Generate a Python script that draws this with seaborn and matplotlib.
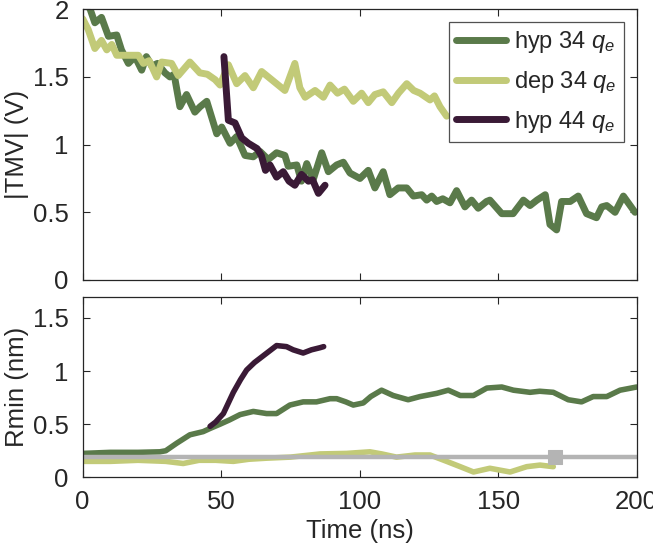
import numpy as np
import pandas as pd
import matplotlib
matplotlib.use('Agg')
import matplotlib.pyplot as plt
import seaborn as sns

# colours
c_hyp34 = '#5a7a4a'
c_dep34 = '#c2ca78'
c_hyp44 = '#3a1a36'
c_ref = '#b4b4b4'

# ---- top panel: |TMV| (V) ----
tmv_hyp34_t = [0, 2.7, 4.4, 6.8, 9.3, 12.3, 14, 16.5, 18.9, 21.3, 23, 25, 27, 29.7, 31.5, 33,
               35.1, 37.5, 40.5, 42.4, 44.8, 48.4, 50.2, 53.2, 55.6, 58.6, 61.6, 64, 67, 70,
               73, 74.2, 77.3, 79, 80.9, 83.2, 86.3, 88.7, 91.7, 94.1, 96.5, 100.1, 103.1,
               105.5, 108.5, 110.9, 113.9, 117, 119.4, 122.4, 124.2, 126, 127.8, 130, 132.6,
               135, 138, 140.4, 142.8, 145.8, 147, 151.3, 155.4, 159.1, 161.5, 164, 167,
               168.7, 171.1, 172.9, 176, 178.9, 181.9, 185.5, 187.4, 189.2, 192.2, 195.2, 199.4]
tmv_hyp34 = [2.08, 2.0, 1.9, 1.94, 1.8, 1.81, 1.70, 1.6, 1.65, 1.55, 1.65, 1.58, 1.6, 1.53, 1.50,
             1.52, 1.28, 1.37, 1.24, 1.28, 1.32, 1.08, 1.13, 1.01, 1.06, 0.92, 0.91, 0.95, 0.89,
             0.94, 0.92, 0.84, 0.85, 0.73, 0.86, 0.74, 0.94, 0.80, 0.85, 0.87, 0.79, 0.75, 0.81,
             0.68, 0.80, 0.63, 0.68, 0.68, 0.62, 0.63, 0.59, 0.62, 0.58, 0.60, 0.57, 0.66, 0.54,
             0.59, 0.53, 0.58, 0.59, 0.49, 0.49, 0.59, 0.55, 0.59, 0.63, 0.41, 0.37, 0.58, 0.58,
             0.62, 0.49, 0.46, 0.54, 0.55, 0.50, 0.62, 0.50]

tmv_dep34_t = [0, 2, 4.4, 6.8, 8.7, 10.5, 12.3, 16, 20.1, 21.9, 24, 26.7, 28.5, 32.1, 34.5,
               38.7, 42.3, 45, 47.8, 49.6, 52.6, 55.6, 58.6, 61.6, 64.6, 67, 70, 73, 76.6, 78.4,
               80.3, 83.9, 86.9, 89.3, 92, 94.5, 97.7, 100.7, 103.1, 105.5, 108.5, 111.6, 114,
               117, 119.5, 121.8, 125.4, 127, 129, 131.4]
tmv_dep34 = [1.93, 1.85, 1.71, 1.77, 1.70, 1.74, 1.66, 1.66, 1.66, 1.60, 1.62, 1.50, 1.61, 1.60,
             1.51, 1.61, 1.53, 1.52, 1.48, 1.44, 1.59, 1.45, 1.51, 1.42, 1.54, 1.50, 1.45, 1.40,
             1.60, 1.42, 1.35, 1.40, 1.35, 1.44, 1.38, 1.41, 1.32, 1.38, 1.31, 1.37, 1.39, 1.31,
             1.38, 1.45, 1.40, 1.38, 1.33, 1.36, 1.28, 1.21]

tmv_hyp44_t = [51, 52.6, 55, 57.4, 59.8, 63, 64.5, 66, 67.6, 70, 72.4, 74.5, 76.6, 79, 81.5,
               83, 85.1, 87.5]
tmv_hyp44 = [1.65, 1.18, 1.16, 1.05, 1.01, 0.97, 0.92, 0.81, 0.85, 0.76, 0.80, 0.73, 0.70,
             0.78, 0.73, 0.74, 0.64, 0.70]

# ---- bottom panel: Rmin (nm) ----
rmin_hyp34_t = [0, 10, 20, 27.9, 30, 33.9, 38.7, 43.5, 46, 49.6, 53, 56.8, 61.6, 66.4, 70, 74.8,
                79.6, 84.4, 89.3, 91.7, 95, 97.7, 101.3, 104, 107.9, 112.1, 117.5, 121.8, 127.8,
                132, 136.3, 141.1, 145.9, 151.3, 155.5, 161.5, 165, 169.9, 175.3, 180.1, 184.3,
                189.2, 194, 200]
rmin_hyp34 = [0.225, 0.235, 0.235, 0.24, 0.25, 0.32, 0.40, 0.43, 0.46, 0.50, 0.54, 0.59, 0.62,
              0.60, 0.60, 0.68, 0.71, 0.71, 0.74, 0.74, 0.71, 0.68, 0.70, 0.76, 0.82, 0.77, 0.73,
              0.76, 0.79, 0.82, 0.77, 0.77, 0.84, 0.85, 0.82, 0.80, 0.81, 0.80, 0.73, 0.71, 0.76,
              0.76, 0.82, 0.85]

rmin_dep34_t = [0, 10, 20, 30, 36.3, 42, 48, 54.4, 60, 66.4, 75, 85.7, 95.3, 103.7, 108, 113.3,
                120, 125.4, 131.4, 136.3, 141.1, 147, 154.3, 160.3, 165.1, 169.9]
rmin_dep34 = [0.15, 0.15, 0.16, 0.15, 0.13, 0.16, 0.16, 0.15, 0.17, 0.18, 0.19, 0.22, 0.225,
              0.24, 0.22, 0.19, 0.21, 0.21, 0.15, 0.10, 0.05, 0.085, 0.05, 0.10, 0.115, 0.10]

rmin_hyp44_t = [46, 48, 50.8, 54.4, 57, 59.2, 62, 64, 67, 70, 73.6, 76, 79.6, 82.6, 85.7, 87]
rmin_hyp44 = [0.48, 0.52, 0.60, 0.80, 0.92, 1.01, 1.08, 1.12, 1.18, 1.24, 1.23, 1.20, 1.17,
              1.20, 1.22, 1.23]

ref_t = [0, 200]
ref_level = [0.19, 0.19]
ref_mark_t = [170.5]
ref_mark = [0.19]

labels = ['hyp 34 $q_e$', 'dep 34 $q_e$', 'hyp 44 $q_e$']

sns.set_style('ticks')
plt.rcParams['font.family'] = ['Liberation Sans', 'DejaVu Sans']
plt.rcParams['mathtext.fontset'] = 'custom'
plt.rcParams['mathtext.rm'] = 'Liberation Sans'
plt.rcParams['mathtext.it'] = 'Liberation Sans:italic'
plt.rcParams['axes.edgecolor'] = '#262626'
plt.rcParams['xtick.color'] = '#262626'
plt.rcParams['ytick.color'] = '#262626'

fig = plt.figure(figsize=(6.53, 5.44), dpi=100)
ax1 = fig.add_axes([0.1266, 0.4853, 0.8484, 0.4977])
ax2 = fig.add_axes([0.1266, 0.1226, 0.8484, 0.332])

lw_top = 5.0
lw_bot = 4.0
fs = 18.5

sns.lineplot(x=tmv_hyp34_t, y=tmv_hyp34, color=c_hyp34, lw=lw_top, ax=ax1, label=labels[0])
sns.lineplot(x=tmv_dep34_t, y=tmv_dep34, color=c_dep34, lw=lw_top, ax=ax1, label=labels[1])
sns.lineplot(x=tmv_hyp44_t, y=tmv_hyp44, color=c_hyp44, lw=lw_top, ax=ax1, label=labels[2])

sns.lineplot(x=rmin_hyp34_t, y=rmin_hyp34, color=c_hyp34, lw=lw_bot, ax=ax2)
sns.lineplot(x=rmin_dep34_t, y=rmin_dep34, color=c_dep34, lw=lw_bot, ax=ax2)
sns.lineplot(x=rmin_hyp44_t, y=rmin_hyp44, color=c_hyp44, lw=lw_bot, ax=ax2)
sns.lineplot(x=ref_t, y=ref_level, color=c_ref, lw=3.2, ax=ax2)
sns.scatterplot(x=ref_mark_t, y=ref_mark, color=c_ref, marker='s', s=90, edgecolor=c_ref, ax=ax2, zorder=5)

ax1.set_xlim(0, 200)
ax1.set_ylim(0, 2)
ax1.set_yticks([0, 0.5, 1, 1.5, 2])
ax1.set_yticklabels(['0', '0.5', '1', '1.5', '2'])
ax1.set_xticks([0, 50, 100, 150, 200])
ax1.set_xticklabels([])
ax1.set_ylabel('|TMV| (V)', fontsize=fs, labelpad=3)

ax2.set_xlim(0, 200)
ax2.set_ylim(0, 1.7)
ax2.set_yticks([0, 0.5, 1, 1.5])
ax2.set_yticklabels(['0', '0.5', '1', '1.5'])
ax2.set_xticks([0, 50, 100, 150, 200])
ax2.set_xlabel('Time (ns)', fontsize=fs, labelpad=4)
ax2.set_ylabel('Rmin (nm)', fontsize=fs, labelpad=3)

for ax in (ax1, ax2):
    ax.tick_params(direction='in', top=True, right=True, labelsize=fs, length=5, width=0.8)
    ax.tick_params(axis='y', pad=10)
    ax.tick_params(axis='x', pad=9)
    for sp in ax.spines.values():
        sp.set_linewidth(0.9)

leg = ax1.legend(loc='upper right', fontsize=17, frameon=True, fancybox=False,
                 edgecolor='#262626', handlelength=2.1, borderaxespad=0.55,
                 labelspacing=0.58, handletextpad=0.35, borderpad=0.3)
leg.get_frame().set_linewidth(0.9)

fig.savefig('out.png', dpi=100)
